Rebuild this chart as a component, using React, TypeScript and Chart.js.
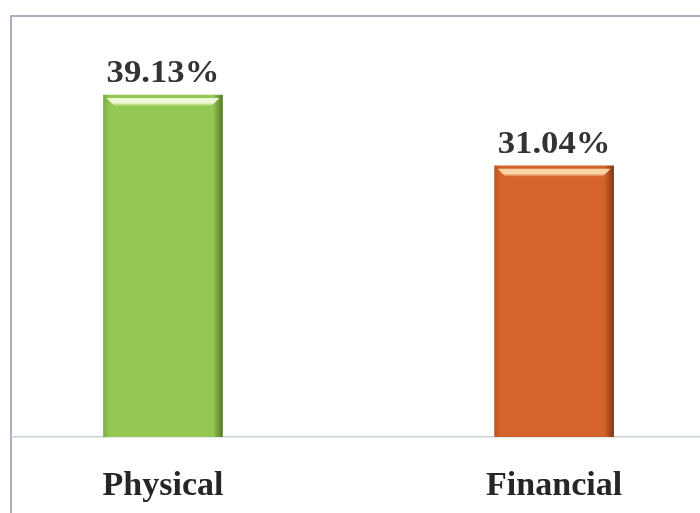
import React, { useEffect, useRef } from "react";
import { Chart, registerables } from "chart.js";
Chart.register(...registerables);

const categories = ["Physical", "Financial"];
const values = [39.13, 31.04];
const valueLabels = ["39.13%", "31.04%"];
const baseColors = ["#94c852", "#d4642b"];
const leftEdge = ["#7daf3f", "#b9541f"];
const rightEdge = ["#557a26", "#7e3a14"];
const highlight = ["#eef8d6", "#fbd5a8"];

const framePlugin = {
  id: "frame",
  beforeDraw(chart: any) {
    const c = chart.ctx;
    c.save();
    c.fillStyle = "#ffffff";
    c.fillRect(0, 0, chart.width, chart.height);
    c.strokeStyle = "#a8b0c0";
    c.lineWidth = 2;
    c.strokeRect(11, 16, 720, 600);
    c.restore();
  },
};

const barDecor = {
  id: "barDecor",
  afterDatasetsDraw(chart: any) {
    const c = chart.ctx;
    const meta = chart.getDatasetMeta(0);
    meta.data.forEach((bar: any, i: number) => {
      const w = bar.width;
      const x0 = bar.x - w / 2;
      const x1 = bar.x + w / 2;
      const y = bar.y;
      c.save();
      c.beginPath();
      c.moveTo(x0 + 3, y + 3);
      c.lineTo(x1 - 3, y + 3);
      c.lineTo(x1 - 11, y + 11);
      c.lineTo(x0 + 11, y + 11);
      c.closePath();
      const g = c.createLinearGradient(0, y + 3, 0, y + 11);
      g.addColorStop(0, highlight[i]);
      g.addColorStop(0.6, highlight[i]);
      g.addColorStop(1, baseColors[i]);
      c.fillStyle = g;
      c.fill();
      c.restore();
      c.save();
      c.font = "bold 31px 'Liberation Serif', serif";
      c.fillStyle = "#333333";
      c.textAlign = "center";
      c.textBaseline = "alphabetic";
      c.translate(bar.x, y - 13);
      c.scale(1.12, 1);
      c.fillText(valueLabels[i], 0, 0);
      c.restore();
    });
  },
};

export default function App() {
  const ref = useRef<HTMLCanvasElement>(null);
  useEffect(() => {
    if (!ref.current) return;
    const chart = new Chart(ref.current, {
      type: "bar",
      data: {
        datasets: [
          {
            data: values.map((v, i) => ({ x: i, y: v })),
            barThickness: 119,
            backgroundColor: (ctx: any) => {
              const ch = ctx.chart;
              const i = ctx.dataIndex;
              const xs = ch.scales && ch.scales.x;
              if (!xs || !ch.chartArea) return baseColors[i];
              const cx = xs.getPixelForValue(i);
              const g = ch.ctx.createLinearGradient(cx - 59.5, 0, cx + 59.5, 0);
              g.addColorStop(0, leftEdge[i]);
              g.addColorStop(0.05, baseColors[i]);
              g.addColorStop(0.92, baseColors[i]);
              g.addColorStop(1, rightEdge[i]);
              return g;
            },
            borderWidth: 0,
          } as any,
        ],
      },
      options: {
        responsive: false,
        animation: false,
        layout: { padding: { top: 15, left: 12, right: 0, bottom: 0 } },
        plugins: { legend: { display: false }, tooltip: { enabled: false } },
        scales: {
          x: {
            type: "linear",
            offset: false,
            min: -0.386,
            max: 1.373,
            afterBuildTicks: (axis: any) => {
              axis.ticks = categories.map((_, i) => ({ value: i }));
            },
            afterFit: (axis: any) => {
              axis.height = 76;
            },
            grid: { display: false, drawTicks: false },
            border: { display: true, color: "#c9cfda", width: 1.5 },
            ticks: {
              autoSkip: false,
              maxRotation: 0,
              padding: 29,
              color: "#262626",
              font: { family: "'Liberation Serif', serif", size: 34, weight: "bold" },
              callback: (v: any) => categories[v] ?? "",
            },
          },
          y: { display: false, min: 0, max: 48.3 },
        },
      } as any,
      plugins: [framePlugin, barDecor],
    });
    return () => chart.destroy();
  }, []);
  return (
    <div style={{ position: "fixed", left: 0, top: 0, width: 700, height: 513 }}>
      <canvas ref={ref} width={700} height={513} />
    </div>
  );
}
